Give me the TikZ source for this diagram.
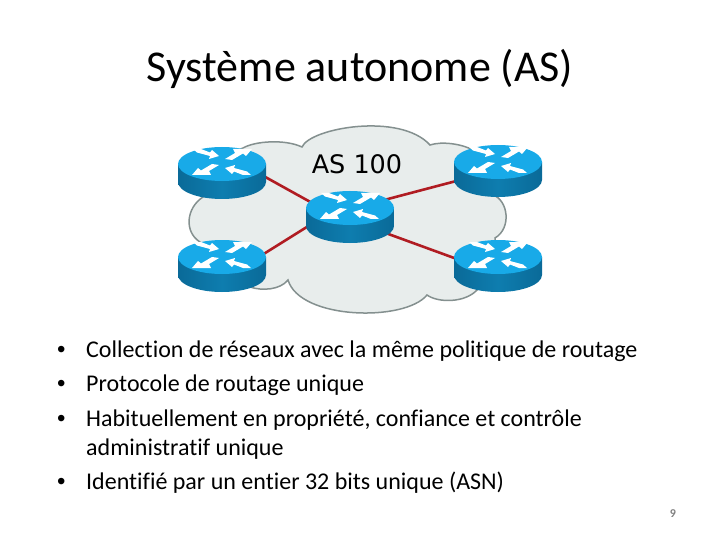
\documentclass[tikz,border=0pt]{standalone}
\usepackage{fontspec}
\setmainfont[Ligatures=NoCommon]{Carlito}
\newfontfamily\asfont{DejaVu Sans}
\newfontfamily\bulletfont{Liberation Sans}
\usepackage{xcolor}
\definecolor{cloud_fill}{HTML}{E8EDEC}
\definecolor{cloud_line}{HTML}{84908F}
\definecolor{router_top}{HTML}{18AAE8}
\definecolor{router_side}{HTML}{0E7DAF}
\definecolor{router_edge}{HTML}{0A6A98}
\definecolor{link_red}{HTML}{B01C22}
\usetikzlibrary{shapes.geometric}
\tikzset{
    routerbox/.style={ellipse, minimum width=88pt, minimum height=50pt, inner sep=0pt},
    link/.style={link_red, line width=2.6pt},
    bullettext/.style={anchor=base west, font=\fontsize{24}{28}\selectfont, inner sep=0pt},
    routericon/.pic={
        \shade [left color=router_edge, right color=router_edge, middle color=router_side] (-44,0) -- (-44,18) arc [x radius=44, y radius=17, start angle=180, end angle=0] -- (44,0) -- cycle;
        \fill [router_top] (0,0) ellipse [x radius=44, y radius=17];
        \foreach \sx/\sy in {1/1,-1/-1} {
            % arrow pointing to the middle
            \fill [white, yshift=2pt, xscale=\sx, yscale=\sy] (-29,-13) -- (-21,-13) -- (-12,-9.5) -- (-10,-12) -- (-3,-6) -- (-13,-3) -- (-12,-6) -- (-25,-9.5) -- cycle;
            % arrow pointing outwards
            \fill [white, yshift=2pt, xscale=\sx, yscale=\sy] (3,-3) -- (13,-9) -- (11,-13) -- (30,-13) -- (24,-6) -- (21,-8.5) -- (10,-2) -- cycle;
        }
    }
}
\begin{document}
\begin{tikzpicture}[x=1pt, y=-1pt]
    \useasboundingbox (0,0) rectangle (720,540);
    \node [font=\fontsize{44}{52}\selectfont] (title) at (360,69) {Système autonome (AS)};
    % cloud
    \draw [fill=cloud_fill, draw=cloud_line, line width=1.5pt]
        (243,148) .. controls (255,141) and (285,139) .. (302,147)
        .. controls (310,128) and (400,112) .. (430,145)
        .. controls (442,141) and (462,144) .. (473,150)
        .. controls (485,165) and (490,180) .. (493,195)
        .. controls (508,200) and (512,228) .. (495,238)
        .. controls (498,260) and (490,280) .. (477,290)
        .. controls (465,303) and (438,303) .. (427,295)
        .. controls (405,322) and (300,320) .. (288,280)
        .. controls (280,290) and (262,291) .. (250,287)
        .. controls (230,280) and (210,260) .. (200,242)
        .. controls (184,232) and (186,208) .. (203,197)
        .. controls (205,175) and (225,155) .. (243,148) -- cycle;
    \node [font=\asfont\fontsize{25.5}{30}\selectfont] (aslabel) at (357,164) {AS 100};
    % routers
    \node [routerbox] (ra) at (222,173) {};
    \node [routerbox] (rb) at (498,171) {};
    \node [routerbox] (rc) at (350,217) {};
    \node [routerbox] (rd) at (222,266) {};
    \node [routerbox] (re) at (498,266) {};
    \foreach \r/\dc/\dr in {ra/7/-20,rb/-8/-1,rd/-17/14,re/3/8} {
        \draw [link] ([yshift=-\dc pt]rc.center) -- ([yshift=-\dr pt]\r.center);
    }
    \foreach \r in {ra,rb,rc,rd,re} {
        \pic at ([yshift=9pt]\r.center) {routericon};
    }
    % text
    \foreach \ypos/\txt in {357/Collection de réseaux avec la même politique de routage,
        391/Protocole de routage unique,
        426/Habituellement en propriété{,} confiance et contrôle,
        489/Identifié par un entier 32 bits unique (ASN)} {
        \node [bullettext] at (86,\ypos) {\txt};
    }
    \node [bullettext] at (86,455) {administratif unique};
    \foreach \ypos in {357,391,426,489} {
        \node [bullettext, font=\bulletfont\fontsize{24}{28}\selectfont] at (57,\ypos) {•};
    }
    \node [font=\bfseries\fontsize{12}{14}\selectfont, text=gray] (pagenum) at (673,514) {9};
\end{tikzpicture}
\end{document}
